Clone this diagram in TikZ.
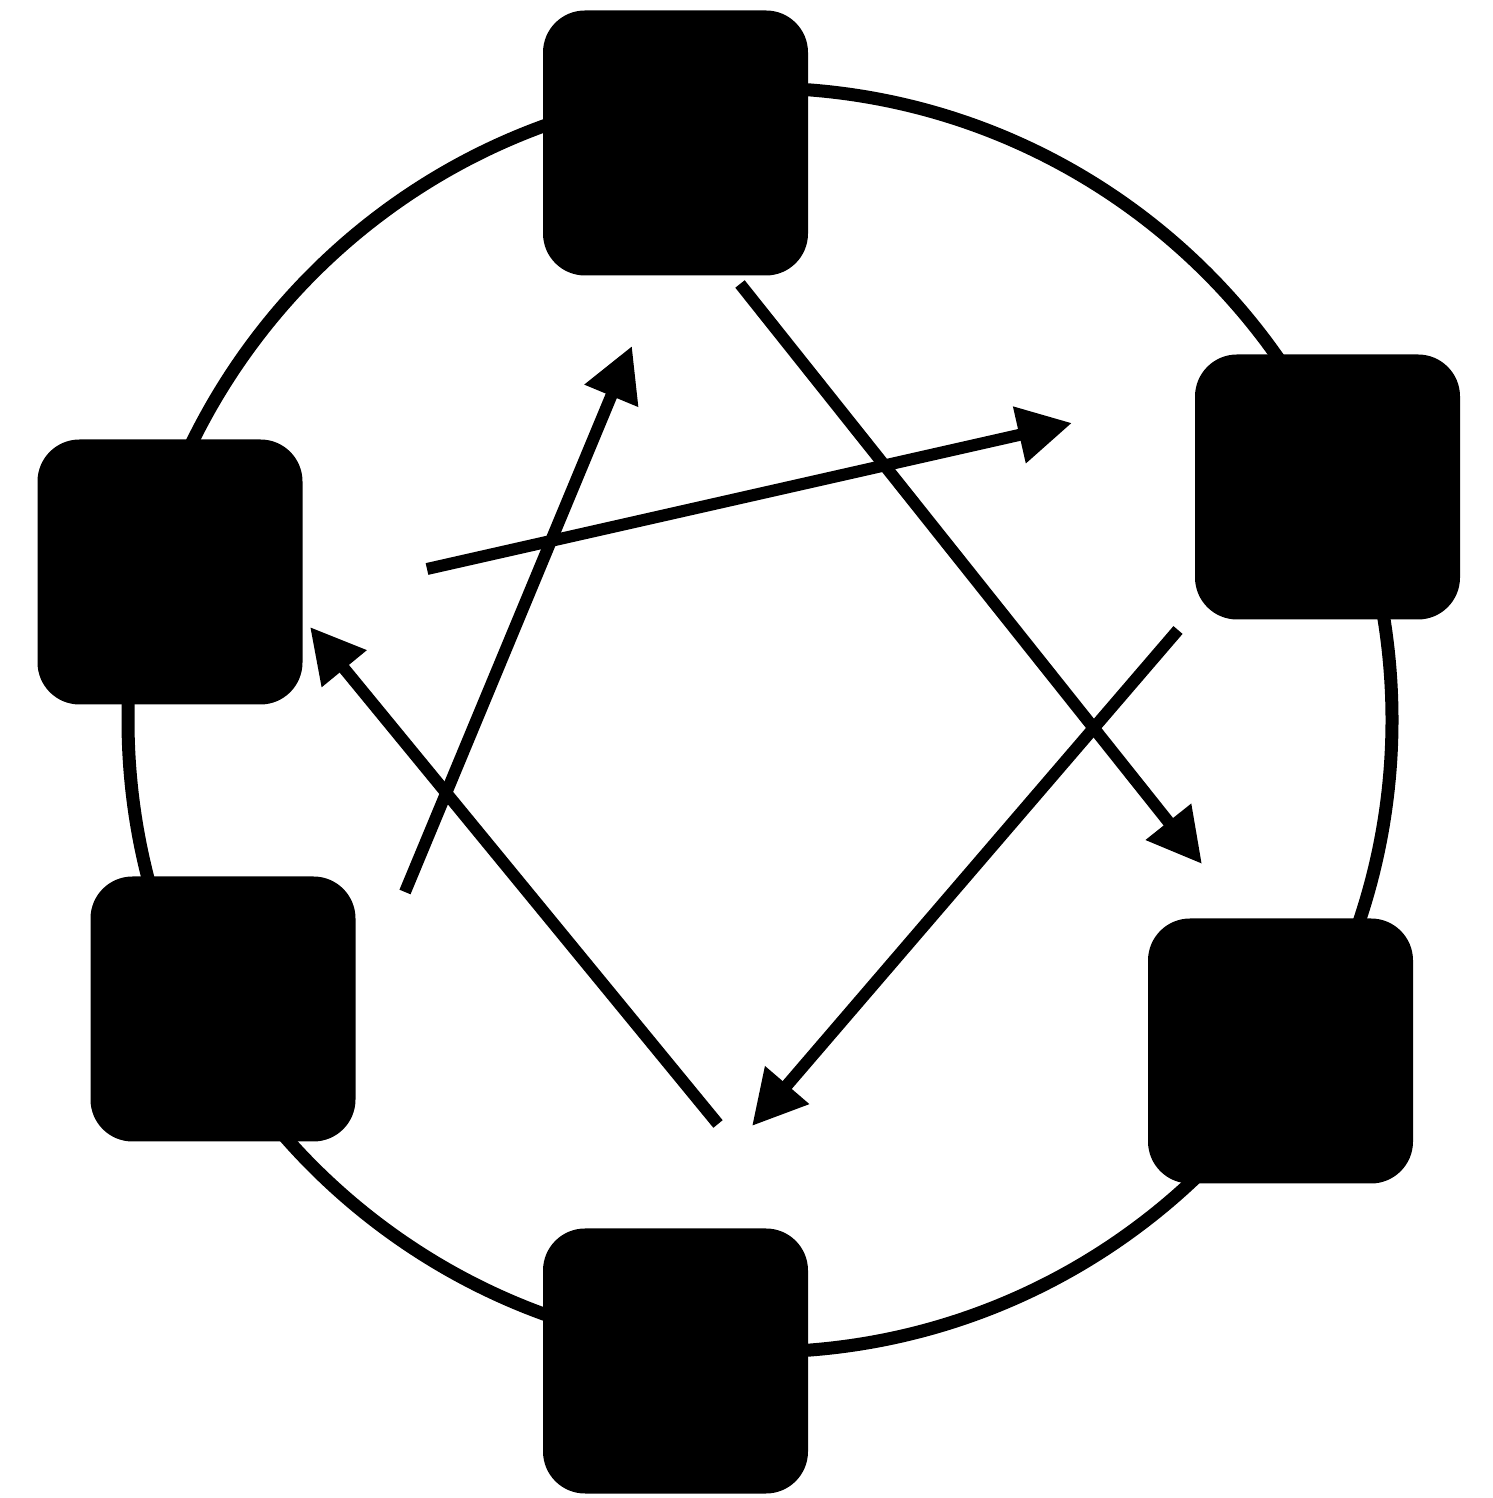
\documentclass[tikz,border=0pt]{standalone}
\usepackage{tikz}
\usetikzlibrary{arrows.meta,positioning}

\begin{document}
\begin{tikzpicture}
        \tikzstyle{block} = [rectangle, fill=black, rounded corners=0.42cm, minimum size=2.65cm, inner sep=0pt]
        \tikzstyle{ring} = [line width=0.13cm]
        \tikzstyle{arrow} = [-{Triangle[length=0.54cm, width=0.55cm]}, line width=0.12cm]

        \useasboundingbox (0,0) rectangle (14.92,14.98);

        \draw[ring] (7.60,7.78) circle (6.32cm);

        \node (top) [block] at (6.755,13.55) {};
        \node (rightup) [block] at (13.275,10.11) {};
        \node (rightdown) [block] at (12.805,4.47) {};
        \node (bottom) [block] at (6.755,1.37) {};
        \node (leftdown) [block] at (2.23,4.89) {};
        \node (leftup) [block] at (1.70,9.26) {};

        \coordinate (a1) at (7.40,12.14);
        \coordinate (b1) at (12.02,6.34);
        \coordinate (a2) at (11.78,8.68);
        \coordinate (b2) at (7.52,3.72);
        \coordinate (a3) at (7.18,3.74);
        \coordinate (b3) at (3.10,8.71);
        \coordinate (a4) at (4.05,6.06);
        \coordinate (b4) at (6.32,11.52);
        \coordinate (a5) at (4.27,9.29);
        \coordinate (b5) at (10.72,10.75);

        \draw[arrow] (a1) -- (b1);
        \draw[arrow] (a2) -- (b2);
        \draw[arrow] (a3) -- (b3);
        \draw[arrow] (a4) -- (b4);
        \draw[arrow] (a5) -- (b5);
    \end{tikzpicture}
\end{document}
